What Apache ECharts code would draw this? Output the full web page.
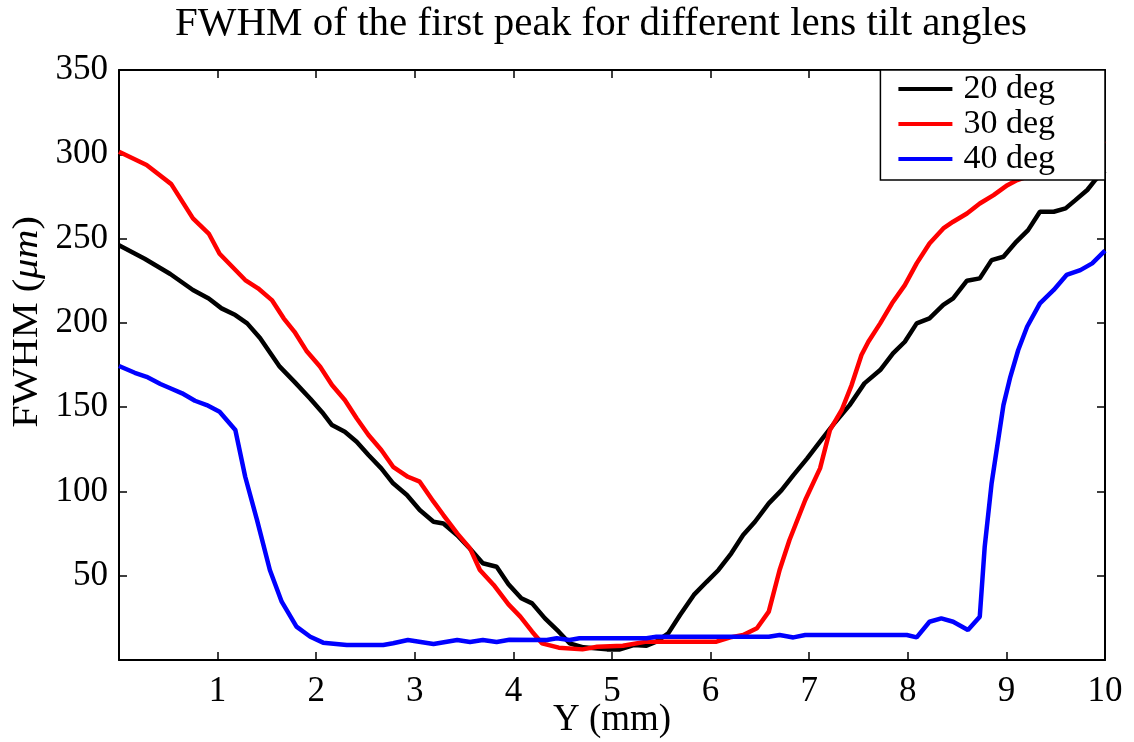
<!DOCTYPE html>
<html>
<head>
<meta charset="utf-8">
<script src="https://cdn.jsdelivr.net/npm/echarts@6/dist/echarts.min.js"></script>
<style>html,body{margin:0;padding:0;background:#fff}#c{width:1134px;height:742px}</style>
</head>
<body>
<div id="c"></div>
<script>
const seriesNames = ['20 deg', '30 deg', '40 deg'];
const seriesColors = ['#000000', '#ff0000', '#0000ff'];
const xTicks = [1,2,3,4,5,6,7,8,9,10];
const yTicks = [50,100,150,200,250,300,350];

const deg20 = [[0,246],[0.26,238],[0.52,229],[0.75,219.5],[0.91,214.5],[1.04,208.6],[1.18,204.6],[1.30,199.7],[1.43,191],[1.63,174],[1.78,165],[1.94,155],[2.06,147],[2.16,139.4],[2.29,135.4],[2.41,129.5],[2.53,121.6],[2.66,113.7],[2.78,104.8],[2.92,97.9],[3.05,89],[3.19,82],[3.29,81],[3.43,74],[3.56,66],[3.69,57.4],[3.83,55.3],[3.95,45],[4.08,36.6],[4.19,33.6],[4.32,24.7],[4.46,16.8],[4.57,9.9],[4.71,7.5],[4.95,6.3],[5.08,6.3],[5.22,8.9],[5.35,8.5],[5.45,10.9],[5.57,15.8],[5.69,26.7],[5.83,38.6],[5.96,46.4],[6.08,53.4],[6.21,63.3],[6.33,74.1],[6.45,82],[6.59,92.9],[6.72,100.8],[6.84,109.7],[6.98,119.6],[7.11,129.5],[7.24,139.4],[7.41,151.2],[7.56,164.1],[7.72,172],[7.85,181.9],[7.97,188.8],[8.09,199.7],[8.22,202.7],[8.36,210.6],[8.46,214.5],[8.60,225],[8.73,226.4],[8.85,237.2],[8.97,239.2],[9.10,248.1],[9.22,255],[9.34,265.9],[9.48,265.9],[9.60,267.9],[9.70,272.8],[9.82,278.8],[9.90,284.7],[10,290]];

const deg30 = [[0,301.5],[0.28,293.6],[0.53,282.3],[0.75,262],[0.91,253],[1.02,241],[1.28,225.4],[1.41,220.5],[1.55,213.5],[1.67,202.7],[1.78,194.7],[1.90,183.5],[2.04,174],[2.16,163.1],[2.29,154.2],[2.41,143.4],[2.53,133.5],[2.66,124.6],[2.78,114.6],[2.93,108.7],[3.05,105.8],[3.19,93.9],[3.29,86],[3.43,75.1],[3.56,66.2],[3.66,53.4],[3.80,44.5],[3.95,33],[4.07,25.7],[4.19,16.8],[4.29,9.9],[4.46,7.3],[4.70,6.3],[4.85,7.9],[5.11,8.5],[5.35,10.9],[5.57,10.9],[6.06,10.9],[6.20,13.4],[6.33,14.8],[6.47,18.8],[6.59,28.7],[6.70,53.4],[6.80,71.2],[6.96,94.9],[7.11,113.7],[7.21,136.4],[7.33,148.3],[7.43,163.1],[7.53,180.9],[7.60,188.8],[7.72,199.7],[7.84,211.6],[7.97,222.4],[8.09,235.3],[8.22,247.1],[8.36,256],[8.46,260],[8.60,264.9],[8.73,270.8],[8.87,275.8],[9.01,281.7],[9.11,284.7],[9.37,290],[9.62,296],[9.87,303],[10,308]];

const deg40 = [[0,174.4],[0.16,170.4],[0.28,168],[0.42,163.7],[0.52,161.2],[0.64,158.2],[0.77,153.8],[0.89,151.2],[1.02,147.3],[1.18,136.4],[1.28,108.7],[1.40,83],[1.53,53.4],[1.65,34.6],[1.80,19.8],[1.94,13.8],[2.07,10.3],[2.31,8.9],[2.68,8.9],[2.78,9.9],[2.93,11.9],[3.19,9.5],[3.43,11.9],[3.56,10.7],[3.69,11.9],[3.83,10.7],[3.96,12],[4.34,11.9],[4.44,12.9],[4.57,11.9],[4.67,12.9],[5.35,12.9],[5.45,13.8],[6.59,13.8],[6.70,14.8],[6.84,13.4],[6.96,14.8],[7.99,14.8],[8.09,13.4],[8.22,22.7],[8.34,24.7],[8.46,22.7],[8.61,17.8],[8.73,25.7],[8.78,67.2],[8.85,104.8],[8.97,151.2],[9.04,168],[9.12,183.9],[9.21,197.7],[9.34,211.6],[9.48,219.5],[9.61,228.4],[9.75,231.3],[9.87,235.3],[10,242.8]];

const seriesData = [deg20, deg30, deg40];
const FONT = 'Liberation Serif';
const xName = 'Y (mm)';

const chart = echarts.init(document.getElementById('c'), null, {renderer: 'canvas'});

function xAxisDef(pos, showLabel) {
  return {
    type: 'value', min: 0, max: 10, interval: 1, position: pos,
    axisLine: {show: true, onZero: false, lineStyle: {color: '#000', width: 2}},
    axisTick: {show: true, inside: true, length: 8, lineStyle: {color: '#000', width: 1.5}},
    axisLabel: {show: showLabel, margin: 14, fontFamily: FONT, fontSize: 35, color: '#000',
      formatter: v => xTicks.includes(v) ? String(v) : ''},
    splitLine: {show: false}
  };
}
function yAxisDef(pos, showLabel) {
  return {
    type: 'value', min: 0, max: 350, interval: 50, position: pos,
    axisLine: {show: true, onZero: false, lineStyle: {color: '#000', width: 2}},
    axisTick: {show: true, inside: true, length: 8, lineStyle: {color: '#000', width: 1.5}},
    axisLabel: {show: showLabel, margin: 11, fontFamily: FONT, fontSize: 35, color: '#000',
      formatter: v => yTicks.includes(v) ? String(v) : ''},
    splitLine: {show: false}
  };
}

chart.setOption({
  animation: false,
  backgroundColor: '#fff',
  title: {
    text: 'FWHM of the first peak for different lens tilt angles',
    left: 170, top: -1,
    textStyle: {fontFamily: FONT, fontSize: 41, fontWeight: 'normal', color: '#000'}
  },
  grid: {left: 119, right: 29, top: 70, bottom: 82, containLabel: false, outerBoundsMode: 'none'},
  xAxis: [xAxisDef('bottom', true), xAxisDef('top', false)],
  yAxis: [yAxisDef('left', true), yAxisDef('right', false)],
  graphic: [{
    type: 'text', x: 27.5, y: 322, rotation: Math.PI / 2, scaleX: 1.12,
    style: {
      text: '{n|FWHM (}{i|μm}{n|)}',
      align: 'center', verticalAlign: 'middle',
      rich: {
        n: {fontFamily: FONT, fontSize: 36, fill: '#000'},
        i: {fontFamily: FONT, fontSize: 36, fontStyle: 'italic', fill: '#000'}
      }
    }
  }, {
    type: 'text', x: 612, y: 720,
    style: {
      text: xName, align: 'center', verticalAlign: 'middle',
      fontFamily: FONT, fontSize: 37, fill: '#000'
    }
  }],
  legend: {
    orient: 'vertical', right: 29, top: 70,
    data: seriesNames,
    itemWidth: 54, itemHeight: 4, itemGap: 1,
    icon: 'rect',
    padding: [2, 50, 4, 18],
    backgroundColor: '#fff', borderColor: '#000', borderWidth: 1.5, borderRadius: 0,
    textStyle: {fontFamily: FONT, fontSize: 34, color: '#000', padding: [0, 0, 0, 6]}
  },
  series: seriesNames.map((n, i) => ({
    name: n, type: 'line', data: seriesData[i],
    xAxisIndex: 0, yAxisIndex: 0,
    symbol: 'none', smooth: false,
    lineStyle: {color: seriesColors[i], width: 4.5},
    itemStyle: {color: seriesColors[i]}
  }))
});
</script>
</body>
</html>
